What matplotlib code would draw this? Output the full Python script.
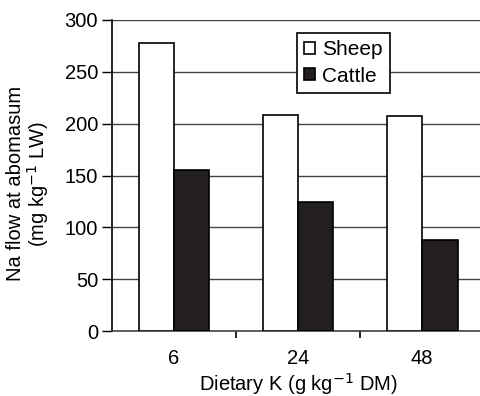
import numpy as np
import matplotlib
matplotlib.use("Agg")
import matplotlib.pyplot as plt

# data
categories = ["6", "24", "48"]
sheep = [278, 208, 207]
cattle = [155, 124, 88]

plt.rcParams['font.family'] = ['Liberation Sans', 'DejaVu Sans']
plt.rcParams['font.size'] = 14.5

fig = plt.figure(figsize=(4.81, 3.96), dpi=100)
ax = fig.add_axes([0.2328, 0.164, 0.774, 0.7855])

x = np.arange(len(categories))
w = 0.285
ax.bar(x - w / 2, sheep, w, color="white", edgecolor="black", linewidth=1.2, label="Sheep", zorder=3)
ax.bar(x + w / 2, cattle, w, color="#231f20", edgecolor="black", linewidth=1.2, label="Cattle", zorder=3)

ax.set_xlim(-0.5, 2.5)
ax.set_ylim(0, 300)
ax.set_yticks(range(0, 301, 50))
ax.yaxis.grid(True, color="#444444", linewidth=1.0, zorder=0)
ax.set_axisbelow(True)

ax.set_xticks(x)
ax.set_xticklabels(categories)
ax.tick_params(axis="x", length=0, pad=13)
ax.set_xticks([0.5, 1.5], minor=True)
ax.tick_params(axis="x", which="minor", length=5, width=1.2, direction="out")
ax.tick_params(axis="y", length=7, width=1.0, direction="out", pad=3)

ax.spines["top"].set_visible(False)
ax.spines["right"].set_visible(False)
ax.spines["left"].set_linewidth(1.2)
ax.spines["bottom"].set_linewidth(1.2)
ax.spines["bottom"].set_color("#444444")

ax.set_ylabel("Na flow at abomasum\n(mg kg$^{-1}$ LW)", linespacing=1.0)
ax.yaxis.set_label_coords(-0.163, 0.473)
ax.set_xlabel("Dietary K (g kg$^{-1}$ DM)", va="baseline")
ax.xaxis.set_label_coords(0.5, -0.193)

leg = ax.legend(loc="upper left", bbox_to_anchor=(0.497, 0.958), fancybox=False,
                edgecolor="black", framealpha=1, handlelength=0.5, handleheight=0.5,
                handletextpad=0.35, borderpad=0.35, labelspacing=0.35, borderaxespad=0,
                fontsize=15)
leg.get_frame().set_linewidth(1.2)

fig.savefig("out.png", dpi=100)
